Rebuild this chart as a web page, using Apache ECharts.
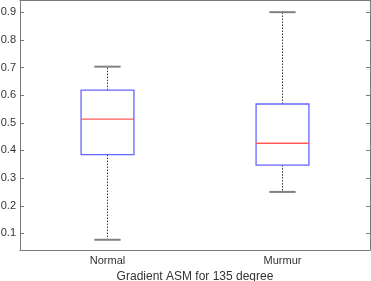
<!DOCTYPE html>
<html><head><meta charset="utf-8">
<script src="https://cdn.jsdelivr.net/npm/echarts@6/dist/echarts.min.js"></script>
<style>html,body{margin:0;padding:0;background:#fff}#c{width:371px;height:281px}</style>
</head><body><div id="c"></div>
<script>
const categories = ['Normal', 'Murmur'];
const lowerWhisker = [0.077, 0.250];
const q1 = [0.385, 0.347];
const median = [0.513, 0.426];
const q3 = [0.618, 0.568];
const upperWhisker = [0.703, 0.900];
const yTicks = [0.1, 0.2, 0.3, 0.4, 0.5, 0.6, 0.7, 0.8, 0.9];
const xTitle = 'Gradient ASM for 135 degree';

const data = categories.map((c, i) => [i, lowerWhisker[i], q1[i], median[i], q3[i], upperWhisker[i]]);
const axisColor = '#7a7a7a';
const textColor = '#333';
const font = 'Liberation Sans, Arial, sans-serif';

const chart = echarts.init(document.getElementById('c'), null, {renderer: 'canvas'});
chart.setOption({
  animation: false,
  grid: {left: 20, right: 1, top: 0, bottom: 31, containLabel: false, outerBoundsMode: 'none'},
  xAxis: [{
    type: 'category', data: categories, boundaryGap: true,
    axisLine: {lineStyle: {color: axisColor}},
    axisTick: {inside: true, alignWithLabel: true, length: 4, lineStyle: {color: axisColor}},
    axisLabel: {color: textColor, fontSize: 11, fontFamily: font, margin: 5},
    name: xTitle, nameLocation: 'middle', nameGap: 18,
    nameTextStyle: {color: textColor, fontSize: 12, fontFamily: font},
    splitLine: {show: false}
  }, {
    type: 'category', data: categories, position: 'top', boundaryGap: true,
    axisLine: {lineStyle: {color: axisColor}},
    axisTick: {inside: true, alignWithLabel: true, length: 4, lineStyle: {color: axisColor}},
    axisLabel: {show: false}, splitLine: {show: false}
  }],
  yAxis: [{
    type: 'value', min: 0.04, max: 0.944,
    axisLine: {show: true, lineStyle: {color: axisColor}},
    axisTick: {show: true, inside: true, length: 4, customValues: yTicks, lineStyle: {color: axisColor}},
    axisLabel: {color: textColor, fontSize: 11, fontFamily: font, margin: 4, customValues: yTicks,
      formatter: v => v.toFixed(1)},
    splitLine: {show: false}
  }, {
    type: 'value', min: 0.04, max: 0.944, position: 'right',
    axisLine: {show: true, lineStyle: {color: axisColor}},
    axisTick: {show: true, inside: true, length: 4, customValues: yTicks, lineStyle: {color: axisColor}},
    axisLabel: {show: false}, splitLine: {show: false}
  }],
  series: [{
    type: 'custom',
    xAxisIndex: 0, yAxisIndex: 0,
    data: data,
    encode: {x: 0, y: [1, 2, 3, 4, 5]},
    renderItem: function (params, api) {
      const xi = api.value(0);
      const pLow = api.coord([xi, api.value(1)]);
      const pQ1 = api.coord([xi, api.value(2)]);
      const pMed = api.coord([xi, api.value(3)]);
      const pQ3 = api.coord([xi, api.value(4)]);
      const pHigh = api.coord([xi, api.value(5)]);
      const band = api.size([1, 0])[0];
      const bw = band * 0.302;
      const cw = band * 0.15;
      const cx = pMed[0];
      const dotted = {stroke: '#333', lineWidth: 1, lineDash: [1.5, 1.5]};
      return {
        type: 'group',
        children: [
          {type: 'line', shape: {x1: cx, y1: pQ3[1], x2: cx, y2: pHigh[1]}, style: dotted},
          {type: 'line', shape: {x1: cx, y1: pQ1[1], x2: cx, y2: pLow[1]}, style: dotted},
          {type: 'line', shape: {x1: cx - cw / 2, y1: pHigh[1], x2: cx + cw / 2, y2: pHigh[1]}, style: {stroke: '#808080', lineWidth: 2}},
          {type: 'line', shape: {x1: cx - cw / 2, y1: pLow[1], x2: cx + cw / 2, y2: pLow[1]}, style: {stroke: '#808080', lineWidth: 2}},
          {type: 'rect', shape: {x: cx - bw / 2, y: pQ3[1], width: bw, height: pQ1[1] - pQ3[1]}, style: {fill: null, stroke: '#6565ff', lineWidth: 1.3}},
          {type: 'line', shape: {x1: cx - bw / 2, y1: pMed[1], x2: cx + bw / 2, y2: pMed[1]}, style: {stroke: '#ff5a5a', lineWidth: 1.3}}
        ]
      };
    }
  }]
});
</script>
</body></html>
